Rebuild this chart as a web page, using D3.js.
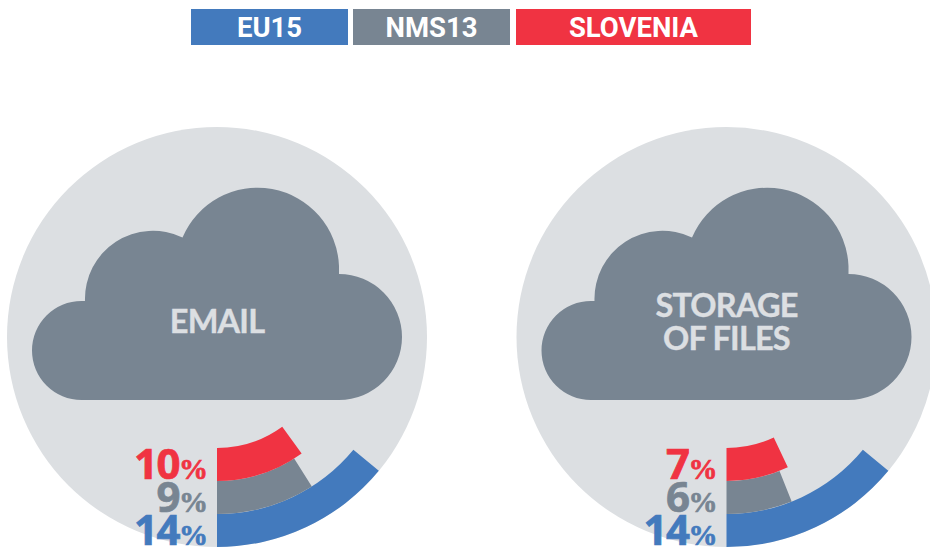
<!DOCTYPE html>
<html><head><meta charset="utf-8">
<script src="https://cdn.jsdelivr.net/npm/d3@7"></script>
<style>html,body{margin:0;padding:0;background:#fff}svg{display:block}</style>
</head><body><svg id="c" width="930" height="548"></svg>
<script>
const seriesNames = ["EU15","NMS13","SLOVENIA"];
const seriesColors = ["#437abd","#788592","#f03342"];
const panelTitles = [["EMAIL"],["STORAGE","OF FILES"]];
const emailValues = [14,9,10];
const storageValues = [14,6,7];
const panelValues = [emailValues, storageValues];

const svg = d3.select("#c");
const light = "#dcdfe2", cloud = "#788592";

// legend
const legendX = [191,353,516], legendW = [157,157,235];
const legend = svg.selectAll("g.leg").data(seriesNames).join("g").attr("transform",(d,i)=>`translate(${legendX[i]},9)`);
legend.append("rect").attr("width",(d,i)=>legendW[i]).attr("height",36).attr("fill",(d,i)=>seriesColors[i]);
legend.append("text").text(d=>d).attr("x",(d,i)=>legendW[i]/2).attr("y",28)
  .attr("text-anchor","middle").attr("fill","#fff")
  .style("font","700 27.5px Roboto");

// scales
const angle = d3.scaleLinear().domain([0,100]).range([Math.PI, -Math.PI]);
const ring = d3.scaleLinear().domain([0,3]).range([210,111]);
const cx = d3.scalePoint().domain([0,1]).range([217,726.5]);
const cy = 337;

panelValues.forEach((vals,p)=>{
  const g = svg.append("g").attr("transform",`translate(${cx(p)},${cy})`);
  g.append("circle").attr("r",210).attr("fill",light);
  g.append("path").attr("d",
    "M-132-36H-135.5A49.5 49.5 0 0 0-135.5 63H122A63 63 0 0 0 122-63V-71A81.5 81.5 0 0 0-34.5-99.5A68 68 0 0 0-132-36Z"
  ).attr("fill",cloud);
  const lines = panelTitles[p];
  g.selectAll("text.t").data(lines).join("text").attr("class","t")
    .text(d=>d).attr("text-anchor","middle").attr("fill",light)
    .attr("x",0).attr("y",(d,i)=>lines.length===1?-4:(-20+i*33))
    .style("font","700 32.5px Lato").style("letter-spacing","-0.8px")
    .attr("stroke",light).attr("stroke-width",0.4);
  const arc = d3.arc();
  g.selectAll("path.a").data(vals).join("path").attr("class","a")
    .attr("fill",(d,i)=>seriesColors[i])
    .attr("d",(d,i)=>arc({innerRadius:ring(i+1),outerRadius:ring(i),startAngle:angle(0),endAngle:angle(d)}));
  const lab = g.selectAll("text.l").data(vals).join("text").attr("class","l")
    .attr("text-anchor","end").attr("x",-9)
    .attr("y",(d,i)=>(ring(i)+ring(i+1))/2+14)
    .attr("fill",(d,i)=>seriesColors[i])
    .attr("stroke",(d,i)=>seriesColors[i]).attr("stroke-width",0.7)
    .style("font","700 42px 'Open Sans'");
  lab.append("tspan").text(d=>d).style("letter-spacing","-1.5px");
  lab.append("tspan").text("%").style("font","700 29px 'Liberation Sans Narrow'");
});
</script></body></html>
